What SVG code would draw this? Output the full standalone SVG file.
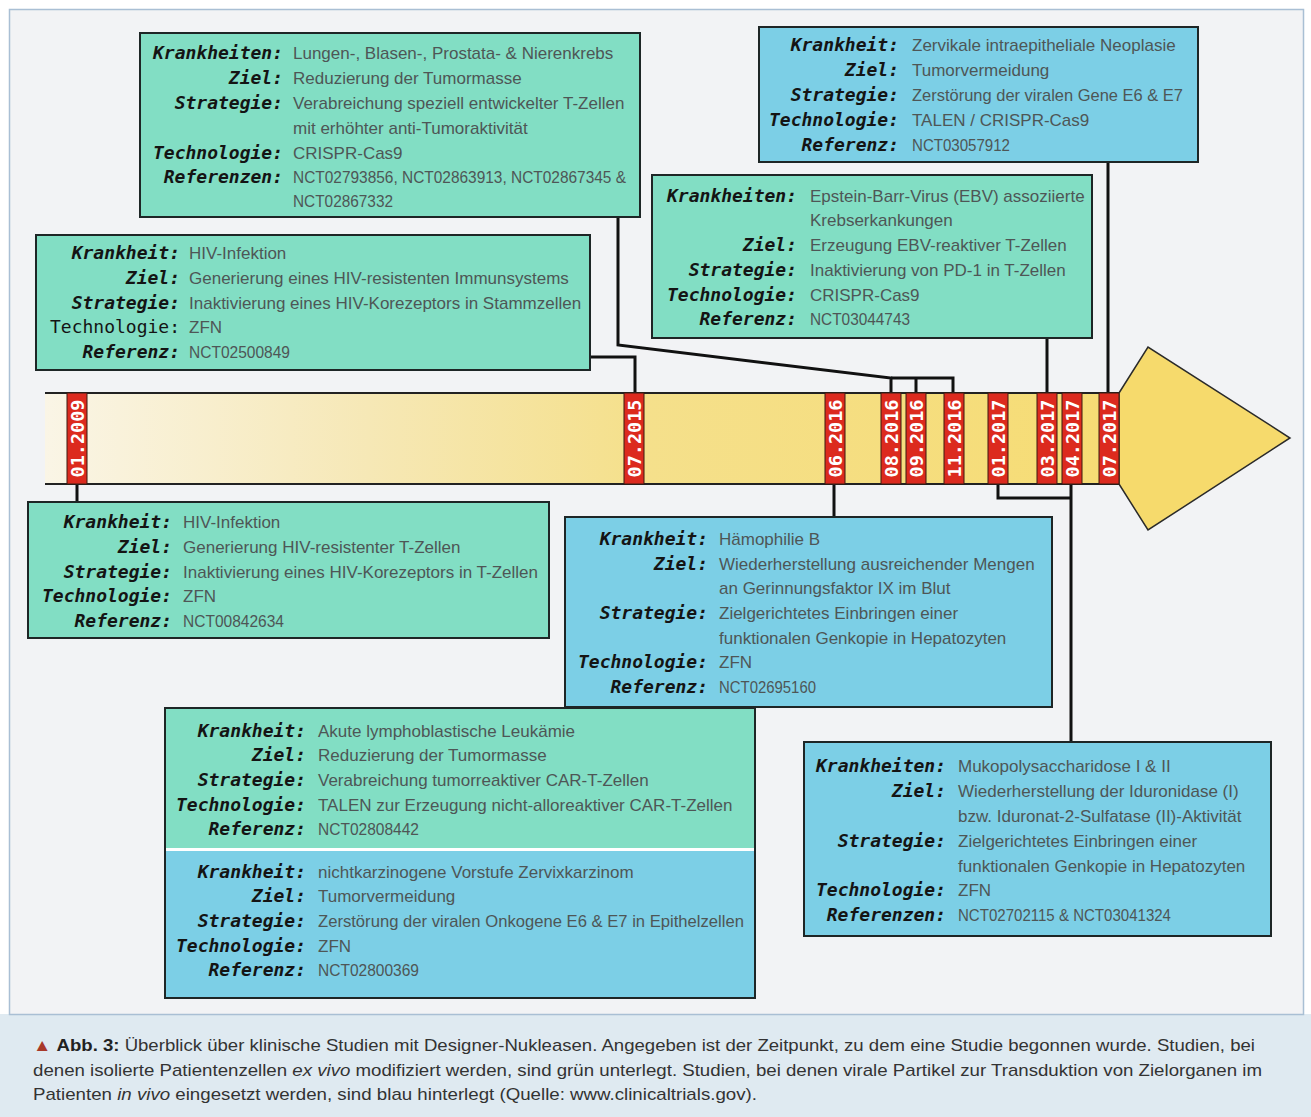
<svg xmlns="http://www.w3.org/2000/svg" width="1311" height="1117" viewBox="0 0 1311 1117">
<defs>
<linearGradient id="barGrad" gradientUnits="userSpaceOnUse" x1="45" y1="0" x2="1117" y2="0">
<stop offset="0" stop-color="#faf5e6"/>
<stop offset="0.3" stop-color="#f6e8b6"/>
<stop offset="0.55" stop-color="#f5e08c"/>
<stop offset="1" stop-color="#f6dc74"/>
</linearGradient>
<style>
.frame{fill:#f2f3f5;stroke:#a9bfd4;stroke-width:1.5}
.cap{fill:#dfeaf1}
.green{fill:#82dec4;stroke:#1e2626;stroke-width:2}
.blue{fill:#7ccfe6;stroke:#1e2626;stroke-width:2}
.lbl{font-family:"DejaVu Sans Mono",monospace;font-weight:bold;font-style:italic;font-size:18px;fill:#141414;text-anchor:end}
.lblr{font-family:"DejaVu Sans Mono",monospace;font-size:18px;fill:#141414;text-anchor:end}
.val{font-family:"Liberation Sans",Arial,sans-serif;font-size:17px;fill:#4e5656}
.conn{fill:none;stroke:#111;stroke-width:3}
.mk{fill:#dc2a1e;stroke:#3a1a10;stroke-width:1}
.mkt{font-family:"DejaVu Sans Mono",monospace;font-weight:bold;font-size:18.5px;fill:#fff;text-anchor:middle}
.captxt{font-family:"Liberation Sans",Arial,sans-serif;font-size:17px;fill:#333}
</style>
</defs>
<rect x="0" y="0" width="1311" height="1117" fill="#ffffff"/>
<rect class="cap" x="0" y="1014" width="1311" height="103"/>
<rect class="frame" x="9.5" y="9.5" width="1294" height="1005"/>

<g id="connectors">
<path class="conn" d="M618,217 V345 L891,378 V393"/>
<path class="conn" d="M891,378 H953 V393 M916,378 V393"/>
<path class="conn" d="M590,357 H635 V393"/>
<path class="conn" d="M1047,338 V393"/>
<path class="conn" d="M1108,162 V393"/>
<path class="conn" d="M77,484 V502"/>
<path class="conn" d="M834,484 V517"/>
<path class="conn" d="M998,484 V498 H1071"/>
<path class="conn" d="M1071,484 V742"/>
</g>

<g id="timeline">
<rect x="45" y="393" width="1074" height="91" fill="url(#barGrad)"/>
<path d="M45,393 H1119 M45,484 H1119" stroke="#222" stroke-width="2" fill="none"/>
<polygon points="1119,393 1148,347 1290,438 1148,530 1119,484" fill="#f6da6c" stroke="#2a2a2a" stroke-width="1.5"/>
</g>

<g id="markers">
<g id="m-01-2009"><rect class="mk" x="67" y="393" width="20" height="91"/><text class="mkt" transform="translate(83.5,438.5) rotate(-90)">01.2009</text></g>
<g id="m-07-2015"><rect class="mk" x="624" y="393" width="20" height="91"/><text class="mkt" transform="translate(640.5,438.5) rotate(-90)">07.2015</text></g>
<g id="m-06-2016"><rect class="mk" x="825" y="393" width="20" height="91"/><text class="mkt" transform="translate(841.5,438.5) rotate(-90)">06.2016</text></g>
<g id="m-08-2016"><rect class="mk" x="881" y="393" width="20" height="91"/><text class="mkt" transform="translate(897.5,438.5) rotate(-90)">08.2016</text></g>
<g id="m-09-2016"><rect class="mk" x="906" y="393" width="20" height="91"/><text class="mkt" transform="translate(922.5,438.5) rotate(-90)">09.2016</text></g>
<g id="m-11-2016"><rect class="mk" x="944" y="393" width="20" height="91"/><text class="mkt" transform="translate(960.5,438.5) rotate(-90)">11.2016</text></g>
<g id="m-01-2017"><rect class="mk" x="988" y="393" width="20" height="91"/><text class="mkt" transform="translate(1004.5,438.5) rotate(-90)">01.2017</text></g>
<g id="m-03-2017"><rect class="mk" x="1037" y="393" width="20" height="91"/><text class="mkt" transform="translate(1053.5,438.5) rotate(-90)">03.2017</text></g>
<g id="m-04-2017"><rect class="mk" x="1062" y="393" width="20" height="91"/><text class="mkt" transform="translate(1078.5,438.5) rotate(-90)">04.2017</text></g>
<g id="m-07-2017"><rect class="mk" x="1099" y="393" width="20" height="91"/><text class="mkt" transform="translate(1115.5,438.5) rotate(-90)">07.2017</text></g>
</g>

<g id="box-krebs">
<rect class="green" x="140" y="33" width="500" height="184"/>
<text class="lbl" x="283" y="59">Krankheiten:</text><text class="val" x="293" y="59">Lungen-, Blasen-, Prostata- &amp; Nierenkrebs</text>
<text class="lbl" x="283" y="84">Ziel:</text><text class="val" x="293" y="84">Reduzierung der Tumormasse</text>
<text class="lbl" x="283" y="109">Strategie:</text><text class="val" x="293" y="109">Verabreichung speziell entwickelter T-Zellen</text>
<text class="val" x="293" y="134">mit erhöhter anti-Tumoraktivität</text>
<text class="lbl" x="283" y="159">Technologie:</text><text class="val" x="293" y="159">CRISPR-Cas9</text>
<text class="lbl" x="283" y="183">Referenzen:</text><text class="val" x="293" y="183" textLength="333" lengthAdjust="spacingAndGlyphs">NCT02793856, NCT02863913, NCT02867345 &amp;</text>
<text class="val" x="293" y="207" textLength="100" lengthAdjust="spacingAndGlyphs">NCT02867332</text>
</g>

<g id="box-hiv-stammzellen">
<rect class="green" x="36" y="235" width="554" height="135"/>
<text class="lbl" x="180" y="259">Krankheit:</text><text class="val" x="189" y="259">HIV-Infektion</text>
<text class="lbl" x="180" y="284">Ziel:</text><text class="val" x="189" y="284">Generierung eines HIV-resistenten Immunsystems</text>
<text class="lbl" x="180" y="309">Strategie:</text><text class="val" x="189" y="309">Inaktivierung eines HIV-Korezeptors in Stammzellen</text>
<text class="lblr" x="180" y="333">Technologie:</text><text class="val" x="189" y="333">ZFN</text>
<text class="lbl" x="180" y="358">Referenz:</text><text class="val" x="189" y="358" textLength="101" lengthAdjust="spacingAndGlyphs">NCT02500849</text>
</g>

<g id="box-zervikal">
<rect class="blue" x="759" y="27" width="439" height="135"/>
<text class="lbl" x="899" y="51">Krankheit:</text><text class="val" x="912" y="51">Zervikale intraepitheliale Neoplasie</text>
<text class="lbl" x="899" y="76">Ziel:</text><text class="val" x="912" y="76">Tumorvermeidung</text>
<text class="lbl" x="899" y="101">Strategie:</text><text class="val" x="912" y="101" textLength="271" lengthAdjust="spacingAndGlyphs">Zerstörung der viralen Gene E6 &amp; E7</text>
<text class="lbl" x="899" y="126">Technologie:</text><text class="val" x="912" y="126">TALEN / CRISPR-Cas9</text>
<text class="lbl" x="899" y="151">Referenz:</text><text class="val" x="912" y="151" textLength="98" lengthAdjust="spacingAndGlyphs">NCT03057912</text>
</g>

<g id="box-ebv">
<rect class="green" x="652" y="175" width="440" height="163"/>
<text class="lbl" x="797" y="202">Krankheiten:</text><text class="val" x="810" y="202">Epstein-Barr-Virus (EBV) assoziierte</text>
<text class="val" x="810" y="226">Krebserkankungen</text>
<text class="lbl" x="797" y="251">Ziel:</text><text class="val" x="810" y="251">Erzeugung EBV-reaktiver T-Zellen</text>
<text class="lbl" x="797" y="276">Strategie:</text><text class="val" x="810" y="276">Inaktivierung von PD-1 in T-Zellen</text>
<text class="lbl" x="797" y="301">Technologie:</text><text class="val" x="810" y="301">CRISPR-Cas9</text>
<text class="lbl" x="797" y="325">Referenz:</text><text class="val" x="810" y="325" textLength="100" lengthAdjust="spacingAndGlyphs">NCT03044743</text>
</g>

<g id="box-hiv-tzellen">
<rect class="green" x="28" y="502" width="521" height="136"/>
<text class="lbl" x="172" y="528">Krankheit:</text><text class="val" x="183" y="528">HIV-Infektion</text>
<text class="lbl" x="172" y="553">Ziel:</text><text class="val" x="183" y="553">Generierung HIV-resistenter T-Zellen</text>
<text class="lbl" x="172" y="578">Strategie:</text><text class="val" x="183" y="578">Inaktivierung eines HIV-Korezeptors in T-Zellen</text>
<text class="lbl" x="172" y="602">Technologie:</text><text class="val" x="183" y="602">ZFN</text>
<text class="lbl" x="172" y="627">Referenz:</text><text class="val" x="183" y="627" textLength="101" lengthAdjust="spacingAndGlyphs">NCT00842634</text>
</g>

<g id="box-haemophilie">
<rect class="blue" x="565" y="517" width="487" height="190"/>
<text class="lbl" x="708" y="545">Krankheit:</text><text class="val" x="719" y="545">Hämophilie B</text>
<text class="lbl" x="708" y="570">Ziel:</text><text class="val" x="719" y="570">Wiederherstellung ausreichender Mengen</text>
<text class="val" x="719" y="594">an Gerinnungsfaktor IX im Blut</text>
<text class="lbl" x="708" y="619">Strategie:</text><text class="val" x="719" y="619">Zielgerichtetes Einbringen einer</text>
<text class="val" x="719" y="644">funktionalen Genkopie in Hepatozyten</text>
<text class="lbl" x="708" y="668">Technologie:</text><text class="val" x="719" y="668">ZFN</text>
<text class="lbl" x="708" y="693">Referenz:</text><text class="val" x="719" y="693" textLength="97" lengthAdjust="spacingAndGlyphs">NCT02695160</text>
</g>

<g id="box-leukaemie">
<rect class="green" x="165" y="708" width="590" height="141"/>
<text class="lbl" x="306" y="737">Krankheit:</text><text class="val" x="318" y="737">Akute lymphoblastische Leukämie</text>
<text class="lbl" x="306" y="761">Ziel:</text><text class="val" x="318" y="761">Reduzierung der Tumormasse</text>
<text class="lbl" x="306" y="786">Strategie:</text><text class="val" x="318" y="786">Verabreichung tumorreaktiver CAR-T-Zellen</text>
<text class="lbl" x="306" y="811">Technologie:</text><text class="val" x="318" y="811">TALEN zur Erzeugung nicht-alloreaktiver CAR-T-Zellen</text>
<text class="lbl" x="306" y="835">Referenz:</text><text class="val" x="318" y="835" textLength="101" lengthAdjust="spacingAndGlyphs">NCT02808442</text>
</g>

<g id="box-zervixkarzinom">
<rect class="blue" x="165" y="849" width="590" height="149"/>
<line x1="166" y1="849.5" x2="754" y2="849.5" stroke="#ffffff" stroke-width="3"/>
<text class="lbl" x="306" y="878">Krankheit:</text><text class="val" x="318" y="878">nichtkarzinogene Vorstufe Zervixkarzinom</text>
<text class="lbl" x="306" y="902">Ziel:</text><text class="val" x="318" y="902">Tumorvermeidung</text>
<text class="lbl" x="306" y="927">Strategie:</text><text class="val" x="318" y="927" textLength="426" lengthAdjust="spacingAndGlyphs">Zerstörung der viralen Onkogene E6 &amp; E7 in Epithelzellen</text>
<text class="lbl" x="306" y="952">Technologie:</text><text class="val" x="318" y="952">ZFN</text>
<text class="lbl" x="306" y="976">Referenz:</text><text class="val" x="318" y="976" textLength="101" lengthAdjust="spacingAndGlyphs">NCT02800369</text>
</g>

<g id="box-mukopoly">
<rect class="blue" x="804" y="742" width="467" height="194"/>
<text class="lbl" x="946" y="772">Krankheiten:</text><text class="val" x="958" y="772">Mukopolysaccharidose I &amp; II</text>
<text class="lbl" x="946" y="797">Ziel:</text><text class="val" x="958" y="797">Wiederherstellung der Iduronidase (I)</text>
<text class="val" x="958" y="822">bzw. Iduronat-2-Sulfatase (II)-Aktivität</text>
<text class="lbl" x="946" y="847">Strategie:</text><text class="val" x="958" y="847">Zielgerichtetes Einbringen einer</text>
<text class="val" x="958" y="872">funktionalen Genkopie in Hepatozyten</text>
<text class="lbl" x="946" y="896">Technologie:</text><text class="val" x="958" y="896">ZFN</text>
<text class="lbl" x="946" y="921">Referenzen:</text><text class="val" x="958" y="921" textLength="213" lengthAdjust="spacingAndGlyphs">NCT02702115 &amp; NCT03041324</text>
</g>

<g id="caption">
<text class="captxt" x="33" y="1051" textLength="1222" lengthAdjust="spacingAndGlyphs"><tspan fill="#a8392a">▲</tspan> <tspan font-weight="bold" fill="#222">Abb. 3:</tspan> Überblick über klinische Studien mit Designer-Nukleasen. Angegeben ist der Zeitpunkt, zu dem eine Studie begonnen wurde. Studien, bei</text>
<text class="captxt" x="33" y="1076" textLength="1229" lengthAdjust="spacingAndGlyphs">denen isolierte Patientenzellen <tspan font-style="italic">ex vivo</tspan> modifiziert werden, sind grün unterlegt. Studien, bei denen virale Partikel zur Transduktion von Zielorganen im</text>
<text class="captxt" x="33" y="1100" textLength="724" lengthAdjust="spacingAndGlyphs">Patienten <tspan font-style="italic">in vivo</tspan> eingesetzt werden, sind blau hinterlegt (Quelle: www.clinicaltrials.gov).</text>
</g>
</svg>
